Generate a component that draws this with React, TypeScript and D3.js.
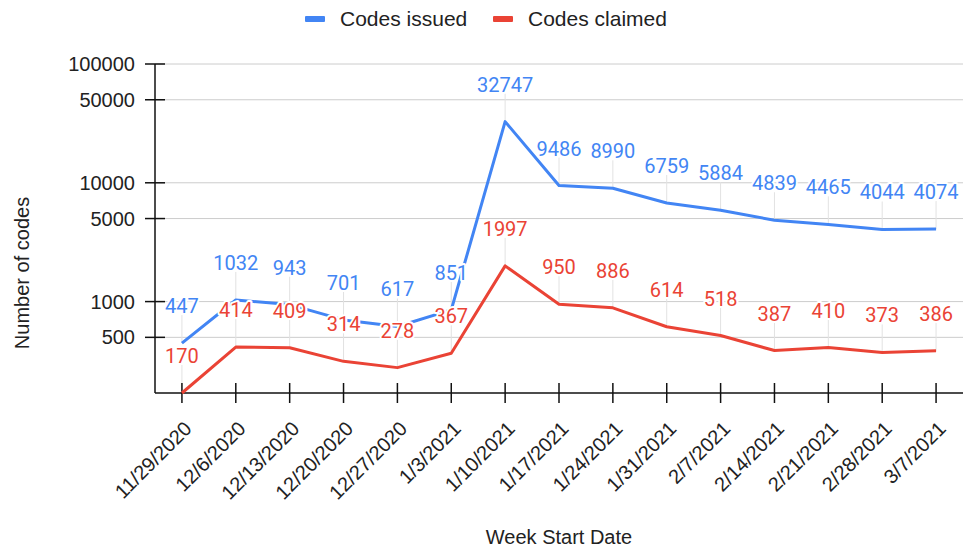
import * as d3 from "d3";
import React, { useEffect, useRef } from "react";

const weeks = [
  "11/29/2020", "12/6/2020", "12/13/2020", "12/20/2020", "12/27/2020",
  "1/3/2021", "1/10/2021", "1/17/2021", "1/24/2021", "1/31/2021",
  "2/7/2021", "2/14/2021", "2/21/2021", "2/28/2021", "3/7/2021",
];
const codesIssued = [447, 1032, 943, 701, 617, 851, 32747, 9486, 8990, 6759, 5884, 4839, 4465, 4044, 4074];
const codesClaimed = [170, 414, 409, 314, 278, 367, 1997, 950, 886, 614, 518, 387, 410, 373, 386];
const yTicks = [500, 1000, 5000, 10000, 50000, 100000];

const seriesNames = ["Codes issued", "Codes claimed"];
const seriesColors = ["#4285F4", "#EA4335"];

const CONFIG = {
  width: 964,
  height: 550,
  left: 155,
  right: 963,
  top: 64,
  bottom: 393,
  yMin: 170,
  yMax: 100000,
  labelGap: 30,
};

const SANS = "Arial, 'Liberation Sans', sans-serif";

const App: React.FC = () => {
  const svgRef = useRef<SVGSVGElement>(null);

  useEffect(() => {
    const svg = d3.select(svgRef.current);
    svg.selectAll("*").remove();

    const x = d3.scalePoint<string>().domain(weeks).range([CONFIG.left, CONFIG.right]).padding(0.5);
    const y = d3.scaleLog().domain([CONFIG.yMin, CONFIG.yMax]).range([CONFIG.bottom, CONFIG.top]);

    // gridlines
    svg
      .append("g")
      .selectAll("line")
      .data(yTicks)
      .enter()
      .append("line")
      .attr("x1", CONFIG.left)
      .attr("x2", CONFIG.right)
      .attr("y1", (d: number) => y(d))
      .attr("y2", (d: number) => y(d))
      .attr("stroke", "#cccccc")
      .attr("stroke-width", 1);

    const series = [codesIssued, codesClaimed];

    // leader lines from points up to labels
    series.forEach((values) => {
      svg
        .append("g")
        .selectAll("line")
        .data(values)
        .enter()
        .append("line")
        .attr("x1", (_: any, i: number) => x(weeks[i])!)
        .attr("x2", (_: any, i: number) => x(weeks[i])!)
        .attr("y1", (d: number) => y(d))
        .attr("y2", (d: number) => y(d) - CONFIG.labelGap + 2)
        .attr("stroke", "#e2e2e2")
        .attr("stroke-width", 1);
    });

    // axes
    svg
      .append("line")
      .attr("x1", CONFIG.left)
      .attr("x2", CONFIG.left)
      .attr("y1", CONFIG.top)
      .attr("y2", CONFIG.bottom)
      .attr("stroke", "#111")
      .attr("stroke-width", 1.5);
    svg
      .append("line")
      .attr("x1", CONFIG.left)
      .attr("x2", CONFIG.right)
      .attr("y1", CONFIG.bottom)
      .attr("y2", CONFIG.bottom)
      .attr("stroke", "#111")
      .attr("stroke-width", 1.5);

    svg
      .append("g")
      .selectAll("line")
      .data(yTicks)
      .enter()
      .append("line")
      .attr("x1", CONFIG.left - 10)
      .attr("x2", CONFIG.left + 10)
      .attr("y1", (d: number) => y(d))
      .attr("y2", (d: number) => y(d))
      .attr("stroke", "#111")
      .attr("stroke-width", 1.5);

    svg
      .append("g")
      .selectAll("text")
      .data(yTicks)
      .enter()
      .append("text")
      .attr("x", 135)
      .attr("y", (d: number) => y(d))
      .attr("dy", "0.35em")
      .attr("text-anchor", "end")
      .attr("font-family", SANS)
      .attr("font-size", 20)
      .attr("fill", "#222")
      .text((d: number) => String(d));

    svg
      .append("g")
      .selectAll("line")
      .data(weeks)
      .enter()
      .append("line")
      .attr("x1", (d: string) => x(d)!)
      .attr("x2", (d: string) => x(d)!)
      .attr("y1", CONFIG.bottom - 10)
      .attr("y2", CONFIG.bottom + 10)
      .attr("stroke", "#111")
      .attr("stroke-width", 1.5);

    svg
      .append("g")
      .selectAll("text")
      .data(weeks)
      .enter()
      .append("text")
      .attr("transform", (d: string) => `translate(${x(d)! + 6},${CONFIG.bottom + 32}) rotate(-45)`)
      .attr("dy", "0.35em")
      .attr("text-anchor", "end")
      .attr("font-family", SANS)
      .attr("font-size", 20)
      .attr("fill", "#222")
      .text((d: string) => d);

    // series lines
    const line = d3
      .line<number>()
      .x((_: number, i: number) => x(weeks[i])!)
      .y((d: number) => y(d));

    series.forEach((values, s) => {
      svg
        .append("path")
        .datum(values)
        .attr("d", line)
        .attr("fill", "none")
        .attr("stroke", seriesColors[s])
        .attr("stroke-width", 3)
        .attr("stroke-linejoin", "round");
    });

    // data labels
    series.forEach((values, s) => {
      svg
        .append("g")
        .selectAll("text")
        .data(values)
        .enter()
        .append("text")
        .attr("x", (_: any, i: number) => x(weeks[i])!)
        .attr("y", (d: number) => y(d) - CONFIG.labelGap)
        .attr("text-anchor", "middle")
        .attr("font-family", "Roboto, sans-serif")
        .attr("font-size", 20)
        .attr("fill", seriesColors[s])
        .attr("stroke", "white")
        .attr("stroke-width", 4)
        .attr("stroke-linejoin", "round")
        .attr("paint-order", "stroke")
        .text((d: number) => String(d));
    });

    // legend
    const legendX = [305, 493];
    seriesNames.forEach((name, s) => {
      svg
        .append("rect")
        .attr("x", legendX[s])
        .attr("y", 16)
        .attr("width", 20)
        .attr("height", 6)
        .attr("rx", 1)
        .attr("fill", seriesColors[s]);
      svg
        .append("text")
        .attr("x", legendX[s] + 35)
        .attr("y", 19)
        .attr("dy", "0.35em")
        .attr("font-family", SANS)
        .attr("font-size", 21)
        .attr("fill", "#222")
        .text(name);
    });

    // axis titles
    svg
      .append("text")
      .attr("transform", `translate(22,273) rotate(-90)`)
      .attr("dy", "0.35em")
      .attr("text-anchor", "middle")
      .attr("font-family", SANS)
      .attr("font-size", 20)
      .attr("fill", "#222")
      .text("Number of codes");

    svg
      .append("text")
      .attr("x", (CONFIG.left + CONFIG.right) / 2)
      .attr("y", 544)
      .attr("text-anchor", "middle")
      .attr("font-family", SANS)
      .attr("font-size", 20)
      .attr("fill", "#222")
      .text("Week Start Date");
  }, []);

  return (
    <svg
      ref={svgRef}
      width={CONFIG.width}
      height={CONFIG.height}
      style={{ position: "absolute", left: 0, top: 0, background: "white" }}
    />
  );
};

export default App;
